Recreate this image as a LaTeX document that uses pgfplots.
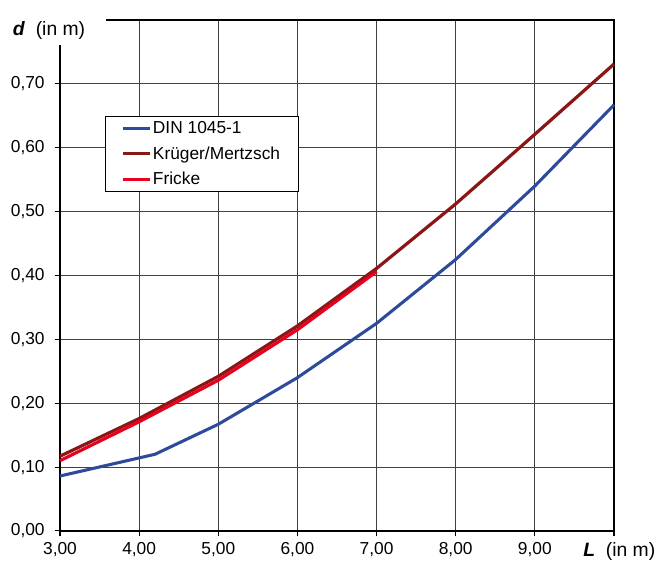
\documentclass[border=0pt]{standalone}
\usepackage{fontspec}
\setmainfont{Liberation Sans}
\usepackage{pgfplots}
\pgfplotsset{compat=1.18}
\definecolor{dinblue}{HTML}{2E4A9B}
\definecolor{kmred}{HTML}{8B1616}
\definecolor{frred}{HTML}{E8001C}
\begin{document}
\begin{tikzpicture}
\begin{axis}[
  scale only axis, width=415.5pt, height=383.25pt,
  xmin=3, xmax=10, ymin=0, ymax=0.8,
  xtick={3,4,5,6,7,8,9,10},
  xticklabels={{3,00},{4,00},{5,00},{6,00},{7,00},{8,00},{9,00},{\hspace{8pt}\fontsize{14.5}{16}\selectfont\textbf{\textit{L}}\ \ (in m)}},
  ytick={0,0.1,0.2,0.3,0.4,0.5,0.6,0.7},
  yticklabels={{0,00},{0,10},{0,20},{0,30},{0,40},{0,50},{0,60},{0,70}},
  grid=major, grid style={black!75, line width=0.6pt},
  axis line style={line width=1pt},
  tick align=outside, xtick pos=left, ytick pos=left,
  tick style={black, line width=0.8pt}, major tick length=4pt,
  tick label style={font=\fontsize{13}{15}\selectfont},
  yticklabel style={xshift=-4pt},
  xticklabel style={yshift=-1pt},
  clip=false,
  legend cell align=left,
  legend style={at={(0.0812,0.812)}, anchor=north west, font=\fontsize{13}{15}\selectfont,
    draw=black, line width=0.6pt, row sep=4pt, inner xsep=12pt, inner ysep=2pt,
    nodes={inner xsep=1.5pt}},
  legend image code/.code={\draw[#1, line width=2.2pt] (0pt,0pt) -- (20pt,0pt);},
]
\addplot[dinblue, line width=2.3pt] coordinates {
 (3,0.086) (4.2,0.120) (5,0.167) (6,0.240) (7,0.325) (8,0.425) (9,0.540) (10,0.667)};
\addlegendentry{DIN 1045-1}
\addplot[kmred, line width=2.4pt] coordinates {
 (3,0.117) (4,0.176) (5,0.242) (6,0.321) (7,0.411) (8,0.512) (9,0.621) (10,0.731)};
\addlegendentry{Krüger/Mertzsch}
\addplot[frred, line width=2.4pt] coordinates {
 (3,0.110) (4,0.171) (5,0.236) (6,0.315) (7,0.406)};
\addlegendentry{Fricke}
\fill[white] (axis description cs:-0.02,0.951) rectangle (axis description cs:0.083,1.03);
\node[anchor=base east, font=\fontsize{14.5}{16}\selectfont] at (axis description cs:0.054,0.970) {\textbf{\textit{d}}\ \ (in m)};
\path (axis description cs:-0.1083,-0.0724) rectangle (axis description cs:1.0903,1.0391);
\end{axis}
\end{tikzpicture}
\end{document}
